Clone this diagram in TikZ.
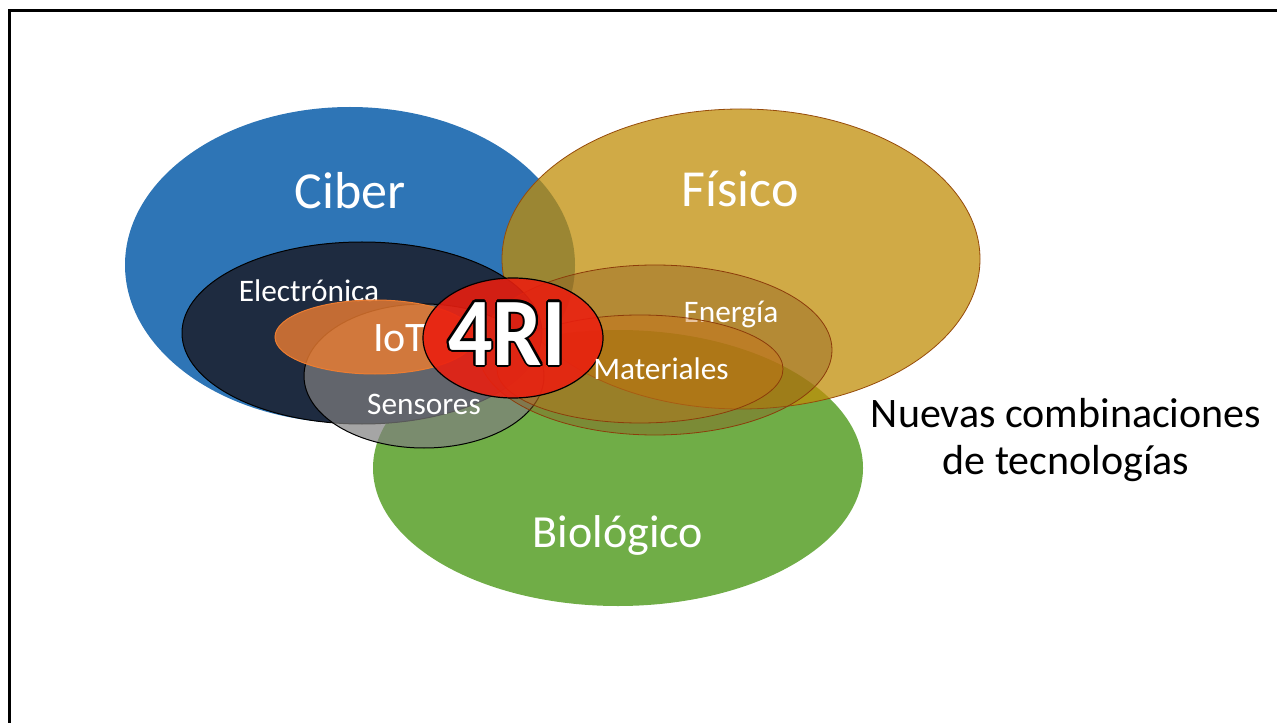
\documentclass[tikz,border=0pt]{standalone}
\usepackage{fontspec}
\setmainfont{Carlito}
\usepackage{graphicx}
\usepackage{contour}
\contourlength{1.4pt}
\definecolor{ciberc}{RGB}{46,117,182}
\definecolor{fisc}{RGB}{192,141,8}
\definecolor{fisb}{RGB}{150,75,10}
\definecolor{bioc}{RGB}{112,173,71}
\definecolor{elecc}{RGB}{30,43,64}
\definecolor{sensc}{RGB}{127,127,127}
\definecolor{iotc}{RGB}{237,125,49}
\definecolor{enerc}{RGB}{140,90,30}
\definecolor{matc}{RGB}{200,110,20}
\definecolor{brownb}{RGB}{140,60,10}
\definecolor{rojoc}{RGB}{235,30,15}
\newcommand{\fsz}[1]{\fontsize{#1}{#1}\selectfont}
\tikzset{
  every node/.style={inner sep=0pt, anchor=base},
  lbl/.style={text=white},
  bigl/.style={lbl, font=\fsz{39}},
  smalll/.style={lbl, font=\fsz{23.5}},
}
\begin{document}
\begin{tikzpicture}[x=0.75pt, y=-0.75pt]
  \useasboundingbox (0,0) rectangle (1277,723);
  \draw[line width=2pt] (9.5,10.5) rectangle (1330,770);
  % tres esferas
  \fill[ciberc] (350,265) ellipse [x radius=225, y radius=158];
  \fill[bioc] (618,468) ellipse [x radius=245, y radius=138];
  \filldraw[fill=fisc, fill opacity=.75, draw=fisb, line width=.6pt]
    (741,259) ellipse [x radius=239, y radius=150];
  \node[bigl] (ci) at (350,209) {Ciber};
  \node[bigl] (fi) at (740,207) {Físico};
  \node[lbl, font=\fsz{34.5}] (bi) at (618,547) {Biológico};
  % tecnologias
  \filldraw[fill=elecc, draw=black, line width=.75pt]
    (362,333) ellipse [x radius=180, y radius=91];
  \node[smalll] (el) at (309,302) {Electrónica};
  \filldraw[fill=sensc, fill opacity=.7, draw=black, line width=.75pt]
    (424,376) ellipse [x radius=120, y radius=72];
  \node[smalll] (se) at (424,414) {Sensores};
  \filldraw[fill=iotc, fill opacity=.8, draw=iotc, line width=.75pt]
    (375,337) ellipse [x radius=100, y radius=37];
  \node[lbl, font=\fsz{31.5}, anchor=base west] (io) at (373,352) {IoT};
  \filldraw[fill=enerc, fill opacity=.4, draw=brownb, line width=.6pt]
    (655,350) ellipse [x radius=177, y radius=85];
  \node[smalll] (en) at (731,323) {Energía};
  \filldraw[fill=matc, fill opacity=.4, draw=brownb, line width=.6pt]
    (640,369) ellipse [x radius=143, y radius=54];
  \filldraw[fill=rojoc, fill opacity=.88, draw=black, line width=.9pt]
    (513,338) ellipse [x radius=90, y radius=60];
  \node[smalll] (ma) at (661,379) {Materiales};
  \node[text=white, font=\bfseries\fsz{66}] (ri) at (507,365)
    {\scalebox{1}[1.1]{\contour{black}{4RI}}};
  \node[font=\fsz{31.5}] (nc1) at (1066,427) {Nuevas combinaciones};
  \node[font=\fsz{31.5}] (nc2) at (1066,474) {de tecnologías};
\end{tikzpicture}
\end{document}
